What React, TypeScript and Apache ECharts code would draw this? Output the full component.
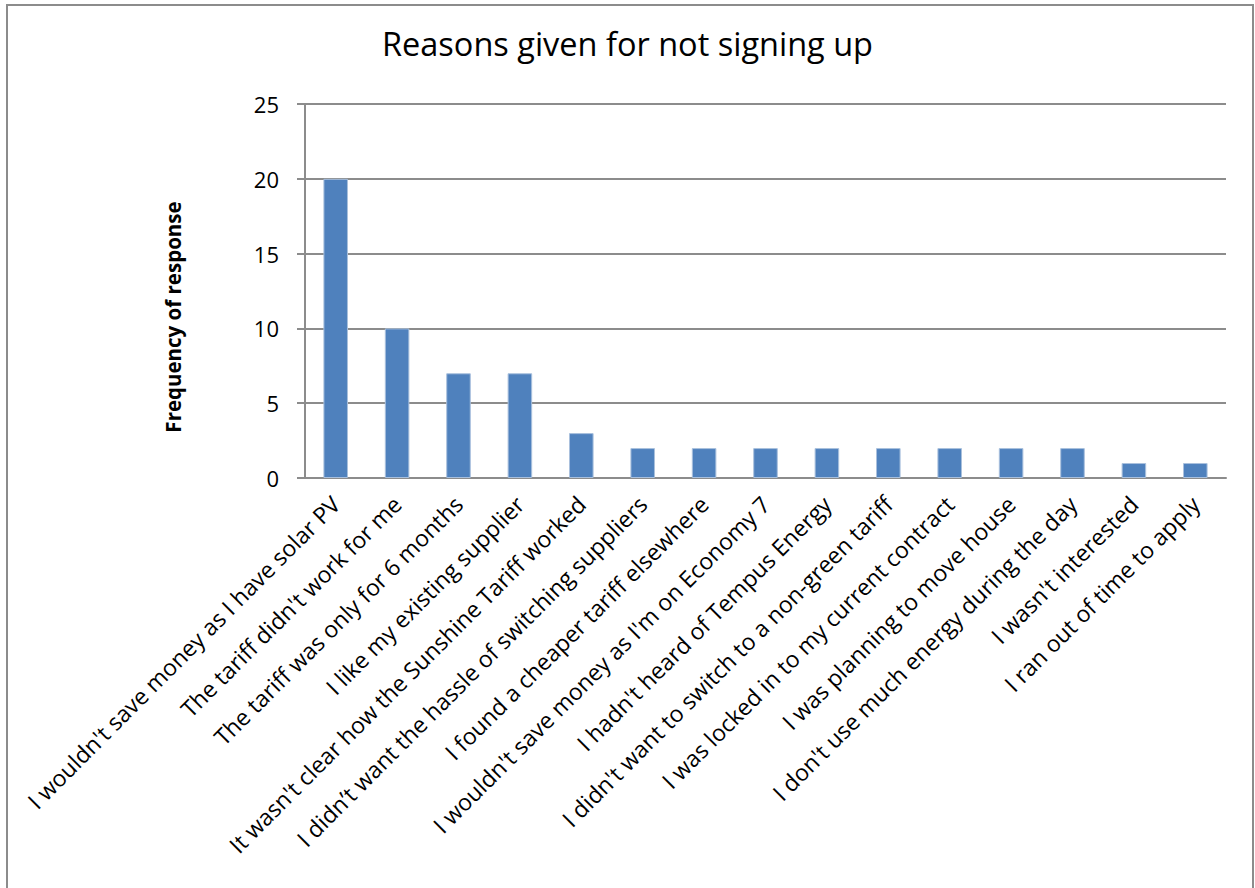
import React, { useEffect, useRef } from "react";
import * as echarts from "echarts";

const categories = [
  "I wouldn't save money as I have solar PV",
  "The tariff didn't work for me",
  "The tariff was only for 6 months",
  "I like my existing supplier",
  "It wasn't clear how the Sunshine Tariff worked",
  "I didn\u2019t want the hassle of switching suppliers",
  "I found a cheaper tariff elsewhere",
  "I wouldn't save money as I'm on Economy 7",
  "I hadn't heard of Tempus Energy",
  "I didn't want to switch to a non-green tariff",
  "I was locked in to my current contract",
  "I was planning to move house",
  "I don't use much energy during the day",
  "I wasn't interested",
  "I ran out of time to apply",
];
const frequencies = [20, 10, 7, 7, 3, 2, 2, 2, 2, 2, 2, 2, 2, 1, 1];
const yTicks = { min: 0, max: 25, interval: 5 };
const titleText = "Reasons given for not signing up";
const yAxisName = "Frequency of response";

export default function App() {
  const ref = useRef<HTMLDivElement>(null);
  useEffect(() => {
    if (!ref.current) return;
    const chart = echarts.init(ref.current, null, { renderer: "svg" });
    const font = "'Open Sans', sans-serif";
    chart.setOption({
      animation: false,
      backgroundColor: "#ffffff",
      textStyle: { fontFamily: font },
      title: {
        text: titleText,
        left: "center",
        top: 22,
        textStyle: { fontFamily: font, fontSize: 32.5, fontWeight: "normal", color: "#000" },
      },
      graphic: [
        {
          type: "rect",
          shape: { x: 7, y: 5, width: 1246, height: 900 },
          style: { fill: "none", stroke: "#8c8c8c", lineWidth: 2 },
          silent: true,
        },
      ],
      grid: { left: 305, right: 29, top: 104, bottom: 410, containLabel: false },
      xAxis: {
        type: "category",
        data: categories,
        axisLine: { show: true, lineStyle: { color: "#8c8c8c", width: 2 } },
        axisTick: { show: false },
        axisLabel: {
          interval: 0,
          rotate: 45,
          fontFamily: font,
          fontSize: 23,
          color: "#000",
          margin: 22,
        },
      },
      yAxis: {
        type: "value",
        min: yTicks.min,
        max: yTicks.max,
        interval: yTicks.interval,
        name: yAxisName,
        nameLocation: "middle",
        nameGap: 122,
        nameTextStyle: {
          fontFamily: font,
          fontSize: 20.5,
          fontWeight: "bold",
          color: "#000",
          padding: [0, 52, 0, 0],
        },
        axisLine: { show: true, lineStyle: { color: "#8c8c8c", width: 2 } },
        axisTick: { show: true, length: 8, lineStyle: { color: "#8c8c8c", width: 2 } },
        axisLabel: { fontFamily: font, fontSize: 22, color: "#000", margin: 26 },
        splitLine: { show: true, lineStyle: { color: "#8c8c8c", width: 2 } },
      },
      series: [
        {
          type: "bar",
          data: frequencies,
          barWidth: "40%",
          itemStyle: { color: "#4f81bd", borderColor: "#a9c0dd", borderWidth: 1 },
        },
      ],
    });
    return () => chart.dispose();
  }, []);
  return (
    <div
      ref={ref}
      style={{ position: "fixed", left: 0, top: 0, width: 1255, height: 888, background: "#fff" }}
    />
  );
}
